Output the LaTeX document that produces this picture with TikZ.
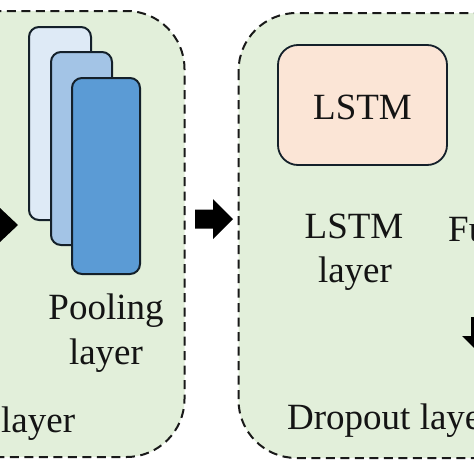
\documentclass[tikz,border=0pt]{standalone}
\usepackage{fontspec}
\setmainfont{Liberation Serif}
\definecolor{panelgreen}{HTML}{E2EFDA}
\definecolor{bluelight}{HTML}{DEEAF6}
\definecolor{bluemid}{HTML}{A3C4E6}
\definecolor{bluedark}{HTML}{5B9BD5}
\definecolor{pinkbox}{HTML}{FBE5D6}
\definecolor{inkline}{HTML}{14202A}
\tikzset{
  panel/.style={fill=panelgreen,draw=black!90,line width=2pt,dash pattern=on 9pt off 5.5pt},
  stack/.style={draw=inkline,line width=2pt,rounded corners=10pt},
  label/.style={font=\fontsize{37}{37}\selectfont,text=black!92,inner sep=0pt,anchor=base},
  blockarrow/.style={fill=black,draw=none},
}
\begin{document}
\begin{tikzpicture}[x=1pt,y=-1pt]
\useasboundingbox (0,0) rectangle (474,474);
\clip (0,0) rectangle (474,474);
\fill[white] (0,0) rectangle (474,474);
% panels
\draw[panel,rounded corners=58pt] (-120,11) rectangle (184.5,457);
\draw[panel,rounded corners=58pt] (238.5,13) rectangle (620,458);
% pooling stack
\draw[stack,fill=bluelight] (29,27) rectangle (91,220);
\draw[stack,fill=bluemid] (51,52) rectangle (112,245);
\draw[stack,fill=bluedark] (72,78) rectangle (140,274);
% LSTM box
\node[draw=inkline,line width=1.8pt,fill=pinkbox,rounded corners=20pt,minimum width=169pt,minimum height=120pt,inner sep=0pt] (lstmbox) at (362.5,105) {};
\node[label] (lstmtext) at (362.5,119) {LSTM};
% labels
\node[label] (pool1) at (106,319) {Pooling};
\node[label] (pool2) at (106,364) {layer};
\node[label,anchor=base west] (leftlayer) at (1,432) {layer};
\node[label] (lstm1) at (354,238.5) {LSTM};
\node[label] (lstm2) at (355,282) {layer};
\node[label,anchor=base west] (drop) at (287,429) {Dropout layer};
\node[label,anchor=base west] (fu) at (448,241.5) {Fu};
% arrows
\fill[blockarrow] (-12,216) -- (0,216) -- (0,208) -- (18,225) -- (0,242) -- (0,234) -- (-12,234) -- cycle;
\fill[blockarrow] (195,209.5) -- (213,209.5) -- (213,199) -- (233,219) -- (213,239) -- (213,228.5) -- (195,228.5) -- cycle;
\fill[blockarrow] (471,317) -- (497,317) -- (497,336) -- (506,336) -- (484,358) -- (462,336) -- (471,336) -- cycle;
\end{tikzpicture}
\end{document}
